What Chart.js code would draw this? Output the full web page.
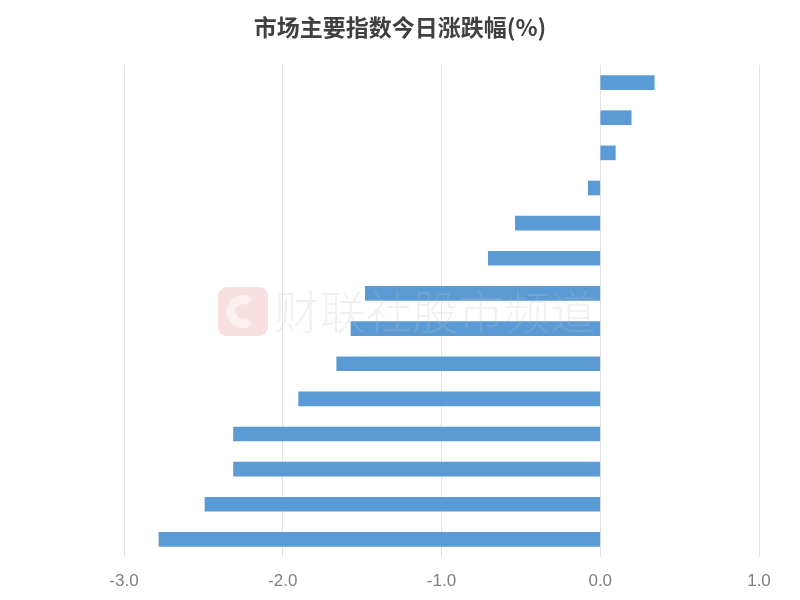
<!DOCTYPE html>
<html>
<head>
<meta charset="utf-8">
<script src="https://cdn.jsdelivr.net/npm/chart.js@4/dist/chart.umd.min.js"></script>
<style>
  html, body { margin: 0; padding: 0; background: #fff; }
  #wrap { width: 800px; height: 600px; }
</style>
</head>
<body>
<div id="wrap"><canvas id="chart" width="800" height="600"></canvas></div>
<script>
// categories (not shown on the picture, kept for the library)
const indexNames = ['指数1', '指数2', '指数3', '指数4', '指数5', '指数6', '指数7',
                    '指数8', '指数9', '指数10', '指数11', '指数12', '指数13', '指数14'];
// change in percent
const changes = [0.34, 0.195, 0.095, -0.075, -0.535, -0.705, -1.48,
                 -1.57, -1.66, -1.90, -2.31, -2.31, -2.49, -2.78];
const xTicks = [-3, -2, -1, 0, 1];
const chartTitle = '市场主要指数今日涨跌幅(%)';

// title centred on the whole canvas
const titlePlugin = {
    id: 'titlePlugin',
    beforeDatasetsDraw(chart) {
        const ctx = chart.ctx;
        ctx.save();
        ctx.fillStyle = '#404040';
        ctx.font = 'bold 23px "Noto Sans CJK SC"';
        ctx.textAlign = 'center';
        ctx.textBaseline = 'middle';
        ctx.fillText(chartTitle, 400, 27);
        ctx.restore();
    }
};

// faint watermark over the bars
const watermark = {
    id: 'watermark',
    afterDatasetsDraw(chart) {
        const ctx = chart.ctx;
        ctx.save();
        ctx.globalAlpha = 0.5;
        const x = 218, y = 287, w = 50, h = 49, r = 9;
        ctx.fillStyle = '#f2c2c2';
        ctx.beginPath();
        ctx.moveTo(x + r, y);
        ctx.arcTo(x + w, y, x + w, y + h, r);
        ctx.arcTo(x + w, y + h, x, y + h, r);
        ctx.arcTo(x, y + h, x, y, r);
        ctx.arcTo(x, y, x + w, y, r);
        ctx.closePath();
        ctx.fill();
        ctx.strokeStyle = '#ffffff';
        ctx.lineWidth = 9;
        ctx.beginPath();
        ctx.arc(x + w / 2, y + h / 2, 12, Math.PI * 0.3, Math.PI * 1.7);
        ctx.stroke();
        ctx.globalAlpha = 0.22;
        ctx.fillStyle = '#bdbdbd';
        ctx.font = '300 46px "Noto Sans CJK SC"';
        ctx.textBaseline = 'middle';
        ctx.fillText('财联社股市频道', 274, 312);
        ctx.restore();
    }
};

new Chart(document.getElementById('chart').getContext('2d'), {
    type: 'bar',
    data: {
        labels: indexNames,
        datasets: [{
            data: changes,
            backgroundColor: '#5b9bd5',
            borderWidth: 0,
            barThickness: 14
        }]
    },
    options: {
        indexAxis: 'y',
        responsive: false,
        animation: false,
        layout: { padding: { left: 124, right: 41, top: 65, bottom: 10 } },
        plugins: {
            legend: { display: false },
            tooltip: { enabled: false },
            title: { display: false }
        },
        scales: {
            x: {
                min: xTicks[0],
                max: xTicks[xTicks.length - 1],
                afterBuildTicks: axis => { axis.ticks = xTicks.map(v => ({ value: v })); },
                afterFit: axis => { axis.height = 33; },
                grid: { color: '#e3e3e3', drawTicks: false },
                border: { display: false },
                ticks: {
                    padding: 14,
                    color: '#7f7f7f',
                    font: { family: '"Liberation Sans Narrow", "Liberation Sans"', size: 17 },
                    callback: v => Number(v).toFixed(1)
                }
            },
            y: { display: false }
        }
    },
    plugins: [titlePlugin, watermark]
});
</script>
</body>
</html>
